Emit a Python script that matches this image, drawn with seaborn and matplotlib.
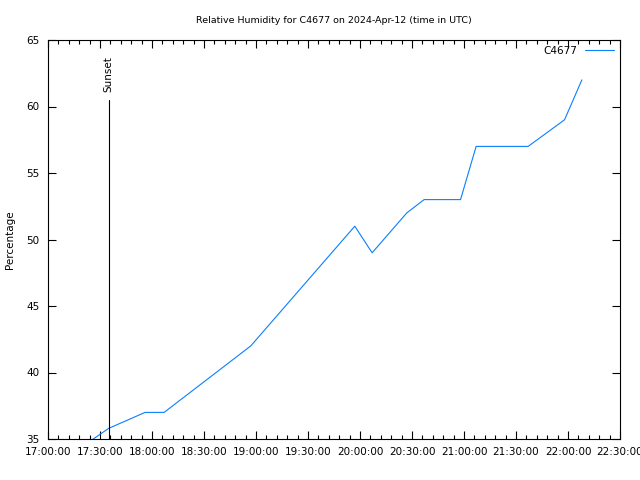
import pandas as pd
import matplotlib
matplotlib.use("Agg")
import matplotlib.pyplot as plt
import matplotlib.dates as mdates
import seaborn as sns

# values
times = ["17:15", "17:35", "17:56", "18:07", "18:57", "19:57", "20:07",
         "20:27", "20:37", "20:58", "21:07", "21:37", "21:58", "22:08"]
humidity = [34, 35.8, 37, 37, 42, 51, 49, 52, 53, 53, 57, 57, 59, 62]
station = "C4677"
day = "2024-04-12"
sunset_time = "17:35"

df = pd.DataFrame({
    "time": pd.to_datetime([day + " " + t for t in times]),
    "humidity": humidity,
})

sns.set_style("ticks")
plt.rcParams["font.family"] = ["DejaVu Sans"]
plt.rcParams["text.color"] = "black"
plt.rcParams["axes.labelcolor"] = "black"
plt.rcParams["xtick.color"] = "black"
plt.rcParams["ytick.color"] = "black"

fig = plt.figure(figsize=(6.4, 4.8), dpi=100)
ax = fig.add_axes([48 / 640, 1 - 439 / 480, 572 / 640, 399 / 480])

sns.lineplot(data=df, x="time", y="humidity", ax=ax, color="#0a7fff",
             linewidth=0.8, label=station)

ax.set_xlim(pd.Timestamp(day + " 17:00"), pd.Timestamp(day + " 22:30"))
ax.set_ylim(35, 65)
ax.set_yticks(range(35, 66, 5))

sunset = pd.Timestamp(day + " " + sunset_time)
ax.plot([sunset, sunset], [35, 60.5], color="black", linewidth=0.8)
ax.text(sunset, 61.1, "Sunset", rotation=90, ha="center", va="bottom",
        fontsize=7.5)

ax.xaxis.set_major_locator(mdates.MinuteLocator(byminute=[0, 30]))
ax.xaxis.set_minor_locator(mdates.MinuteLocator(byminute=range(0, 60, 6)))
ax.xaxis.set_major_formatter(mdates.DateFormatter("%H:%M:%S"))

ax.tick_params(axis="x", which="both", direction="in", top=True,
               labelsize=7.5, pad=6)
ax.tick_params(axis="x", which="major", length=6, width=0.8)
ax.tick_params(axis="x", which="minor", length=3, width=0.8)
ax.tick_params(axis="y", which="major", direction="in", right=True,
               length=6, width=0.8, labelsize=7.5, pad=6)

for s in ax.spines.values():
    s.set_linewidth(0.8)
    s.set_color("black")

ax.set_xlabel("")
ax.set_ylabel("Percentage", fontsize=7.5, labelpad=8)
ax.set_title("Relative Humidity for C4677 on 2024-Apr-12 (time in UTC)",
             fontsize=6.8, pad=12)

ax.legend(loc="upper right", frameon=False, markerfirst=False,
          fontsize=7.5, handlelength=2.8, borderaxespad=0.15)

fig.savefig("out.png", dpi=100)
